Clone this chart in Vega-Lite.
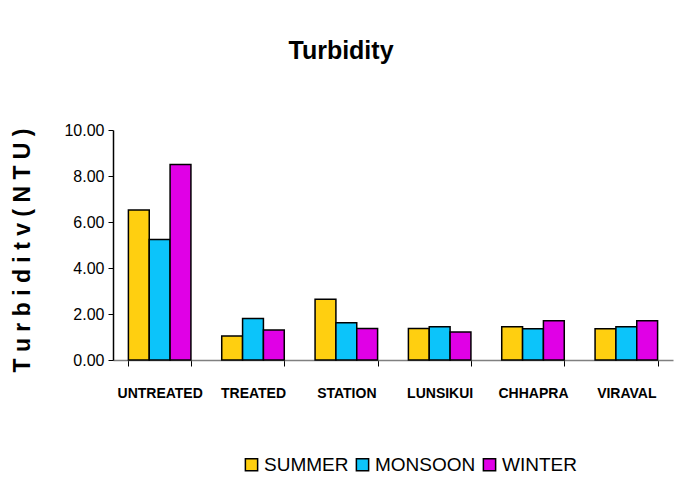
{
  "$schema": "https://vega.github.io/schema/vega-lite/v6.json",
  "width": 560,
  "height": 230,
  "autosize": "none",
  "padding": {"left": 113, "top": 130, "right": 1, "bottom": 131},
  "background": "white",
  "title": {"text": "Turbidity", "fontSize": 25, "font": "Liberation Sans Narrow, Arial Narrow, Liberation Sans, sans-serif", "fontWeight": "bold", "anchor": "middle", "dx": -52, "offset": 58, "color": "black"},
  "data": {"values": [
    {"site": "UNTREATED", "season": "SUMMER", "value": 6.52},
    {"site": "UNTREATED", "season": "MONSOON", "value": 5.24},
    {"site": "UNTREATED", "season": "WINTER", "value": 8.5},
    {"site": "TREATED", "season": "SUMMER", "value": 1.04},
    {"site": "TREATED", "season": "MONSOON", "value": 1.8},
    {"site": "TREATED", "season": "WINTER", "value": 1.3},
    {"site": "STATION", "season": "SUMMER", "value": 2.64},
    {"site": "STATION", "season": "MONSOON", "value": 1.62},
    {"site": "STATION", "season": "WINTER", "value": 1.37},
    {"site": "LUNSIKUI", "season": "SUMMER", "value": 1.37},
    {"site": "LUNSIKUI", "season": "MONSOON", "value": 1.45},
    {"site": "LUNSIKUI", "season": "WINTER", "value": 1.22},
    {"site": "CHHAPRA", "season": "SUMMER", "value": 1.45},
    {"site": "CHHAPRA", "season": "MONSOON", "value": 1.36},
    {"site": "CHHAPRA", "season": "WINTER", "value": 1.71},
    {"site": "VIRAVAL", "season": "SUMMER", "value": 1.36},
    {"site": "VIRAVAL", "season": "MONSOON", "value": 1.45},
    {"site": "VIRAVAL", "season": "WINTER", "value": 1.71}
  ]},
  "mark": {"type": "bar", "stroke": "black", "strokeWidth": 1.5},
  "encoding": {
    "x": {
      "field": "site", "type": "nominal",
      "sort": ["UNTREATED", "TREATED", "STATION", "LUNSIKUI", "CHHAPRA", "VIRAVAL"],
      "scale": {"paddingInner": 0.33, "paddingOuter": 0.165},
      "axis": {"title": null, "labelAngle": 0, "labelFont": "Liberation Sans Narrow, Arial Narrow, Liberation Sans, sans-serif", "labelFontWeight": "bold", "labelFontSize": 14, "labelColor": "black", "labelPadding": 20, "tickBand": "extent", "tickSize": 6, "tickColor": "black", "domainColor": "#808080", "domainWidth": 1.5}
    },
    "xOffset": {"field": "season", "type": "nominal", "sort": ["SUMMER", "MONSOON", "WINTER"]},
    "y": {
      "field": "value", "type": "quantitative",
      "scale": {"domain": [0, 10]},
      "axis": {"values": [0, 2, 4, 6, 8, 10], "format": ".2f", "grid": false, "labelFont": "Liberation Sans Narrow, Arial Narrow, Liberation Sans, sans-serif", "labelFontSize": 16, "labelColor": "black", "tickSize": 5, "tickColor": "black", "labelPadding": 4, "domainColor": "black", "domainWidth": 1.5,
        "title": "T u r b i d i t v   ( N T U )", "titleFont": "Liberation Sans Narrow, Arial Narrow, Liberation Sans, sans-serif", "titleFontSize": 23, "titleFontWeight": "bold", "titleColor": "black", "titleX": -91, "titleY": 120, "titleAngle": -90, "titleAlign": "center", "titleBaseline": "middle"}
    },
    "color": {
      "field": "season", "type": "nominal",
      "sort": ["SUMMER", "MONSOON", "WINTER"],
      "scale": {"domain": ["SUMMER", "MONSOON", "WINTER"], "range": ["#FFCF10", "#0CC4FA", "#E000E6"]},
      "legend": {"title": null, "orient": "none", "direction": "horizontal", "legendX": 129, "legendY": 325, "symbolType": "square", "symbolSize": 150, "symbolStrokeColor": "black", "symbolStrokeWidth": 1.5, "symbolOpacity": 1, "labelFont": "Liberation Sans Narrow, Arial Narrow, Liberation Sans, sans-serif", "labelFontSize": 19, "labelColor": "black", "columnPadding": 4, "labelOffset": 3}
    }
  },
  "config": {"view": {"stroke": null}}
}
